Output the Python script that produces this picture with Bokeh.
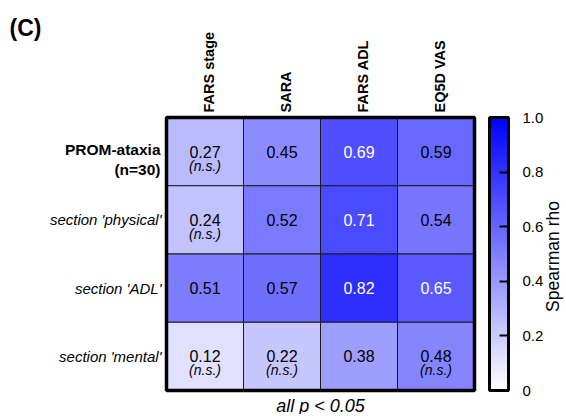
import math
import numpy as np
from bokeh.plotting import figure
from bokeh.models import (ColumnDataSource, Range1d, LinearColorMapper, ColorBar,
                          FixedTicker, CustomJSTickFormatter, Label)
from bokeh.transform import transform
from bokeh.core.properties import value
from bokeh.embed import file_html
from bokeh.resources import INLINE

# ---------------- data ----------------
columns = ["FARS stage", "SARA", "FARS ADL", "EQ5D VAS"]
row_labels = ["PROM-ataxia\n(n=30)", "section 'physical'", "section 'ADL'", "section 'mental'"]
row_bold = [True, False, False, False]
rho_prom = [0.27, 0.45, 0.69, 0.59]
rho_physical = [0.24, 0.52, 0.71, 0.54]
rho_adl = [0.51, 0.57, 0.82, 0.65]
rho_mental = [0.12, 0.22, 0.38, 0.48]
ns_prom = [True, False, False, False]
ns_physical = [True, False, False, False]
ns_adl = [False, False, False, False]
ns_mental = [True, True, False, True]
colorbar_ticks = [0, 0.2, 0.4, 0.6, 0.8, 1.0]
footnote = "all p < 0.05"
panel_title = "(C)"
colorbar_title = "Spearman rho"

FONT = "Liberation Sans"

# ---------------- layout (pixels) ----------------
W, H = 564, 414
HEAT_LEFT, HEAT_TOP = 166, 117
CELL_W, CELL_H = 77, 68.25

rho_rows = [rho_prom, rho_physical, rho_adl, rho_mental]
ns_rows = [ns_prom, ns_physical, ns_adl, ns_mental]
n_rows, n_cols = len(rho_rows), len(columns)

xs, ys, vals, labels, tcolors = [], [], [], [], []
ns_x, ns_y = [], []
for ri, (rvals, rns) in enumerate(zip(rho_rows, ns_rows)):
    for ci, (v, n) in enumerate(zip(rvals, rns)):
        xs.append(ci + 0.5); ys.append(ri + 0.5); vals.append(v)
        labels.append(f"{v:.2f}")
        tcolors.append("white" if v >= 0.65 else "black")
        if n:
            ns_x.append(ci + 0.5); ns_y.append(ri + 0.5)

src = ColumnDataSource(dict(x=xs, y=ys, v=vals, label=labels, tcolor=tcolors))
ns_src = ColumnDataSource(dict(x=ns_x, y=ns_y, text=["(n.s.)"] * len(ns_x)))

palette = ["#%02x%02xff" % (255 - i, 255 - i) for i in range(256)]
mapper = LinearColorMapper(palette=palette, low=0, high=1)

x_range = Range1d(-HEAT_LEFT / CELL_W, (W - HEAT_LEFT) / CELL_W)
y_range = Range1d((H - HEAT_TOP) / CELL_H, -HEAT_TOP / CELL_H)  # rows run downward

p = figure(width=W, height=H, x_range=x_range, y_range=y_range,
           x_axis_location=None, y_axis_location=None,
           toolbar_location=None, output_backend="svg",
           min_border=0)
p.grid.visible = False
p.outline_line_color = None
p.background_fill_color = "white"
p.border_fill_color = "white"

# heatmap cells
p.rect(x="x", y="y", width=1, height=1, source=src,
       fill_color=transform("v", mapper), line_color="#1a1a1a", line_width=1)
# outer frame of the heatmap
p.rect(x=[n_cols / 2], y=[n_rows / 2], width=n_cols, height=n_rows,
       fill_color=None, line_color="black", line_width=3.5)

p.text(x="x", y="y", text="label", source=src, text_color="tcolor",
       text_align="center", text_baseline="middle",
       text_font=value(FONT), text_font_size="16px")
p.text(x="x", y="y", text="text", source=ns_src, text_color="black",
       text_align="center", text_baseline="middle", y_offset=14,
       text_font=value(FONT), text_font_size="14px", text_font_style="italic")

# column labels (vertical, above heatmap)
col_src = ColumnDataSource(dict(x=list(np.arange(n_cols) + 0.5), y=[0] * n_cols, text=columns))
p.text(x="x", y="y", text="text", source=col_src, angle=math.pi / 2,
       x_offset=4, y_offset=-5, text_align="left", text_baseline="middle",
       text_font=value(FONT), text_font_size="14.5px", text_font_style="bold",
       text_color="black")

# row labels
b_idx = [i for i, b in enumerate(row_bold) if b]
i_idx = [i for i, b in enumerate(row_bold) if not b]
bold_src = ColumnDataSource(dict(x=[0] * len(b_idx), y=[i + 0.5 for i in b_idx],
                                 text=[row_labels[i] for i in b_idx]))
ital_src = ColumnDataSource(dict(x=[0] * len(i_idx), y=[i + 0.5 for i in i_idx],
                                 text=[row_labels[i] for i in i_idx]))
p.text(x="x", y="y", text="text", source=bold_src, x_offset=-6, y_offset=8,
       text_align="right", text_baseline="middle", text_font=value(FONT),
       text_font_size="15.5px", text_font_style="bold", text_color="black",
       text_line_height=1.15)
p.text(x="x", y="y", text="text", source=ital_src, x_offset=-5,
       text_align="right", text_baseline="middle", text_font=value(FONT),
       text_font_size="15px", text_font_style="italic", text_color="black")

# footnote, panel title, colour-bar title
p.add_layout(Label(x=n_cols / 2, y=n_rows, y_offset=-15, text=footnote,
                   text_align="center", text_baseline="middle", text_font=FONT,
                   text_font_size="18px", text_font_style="italic", text_color="black"))
p.add_layout(Label(x=9, y=H - 14, x_units="screen", y_units="screen", text=panel_title,
                   text_align="left", text_baseline="top", text_font=FONT,
                   text_font_size="23px", text_font_style="bold", text_color="black"))
p.add_layout(Label(x=552, y=H - 256, x_units="screen", y_units="screen", text=colorbar_title,
                   angle=math.pi / 2, text_align="center", text_baseline="middle",
                   text_font=FONT, text_font_size="17.5px", text_color="black"))

cb = ColorBar(color_mapper=mapper, ticker=FixedTicker(ticks=colorbar_ticks),
              formatter=CustomJSTickFormatter(code="return tick == 0 ? '0' : tick.toFixed(1)"),
              width=19, height=273, location=(489, H - 390), margin=0, padding=0,
              bar_line_color="black", bar_line_width=3,
              major_tick_in=9, major_tick_out=0, major_tick_line_color="black",
              major_tick_line_width=2, minor_tick_line_color=None,
              major_label_text_font=FONT, major_label_text_font_size="15px",
              major_label_text_color="black", label_standoff=14,
              border_line_color=None, background_fill_color=None)
p.add_layout(cb)

open("out.html", "w").write(file_html(p, INLINE))
